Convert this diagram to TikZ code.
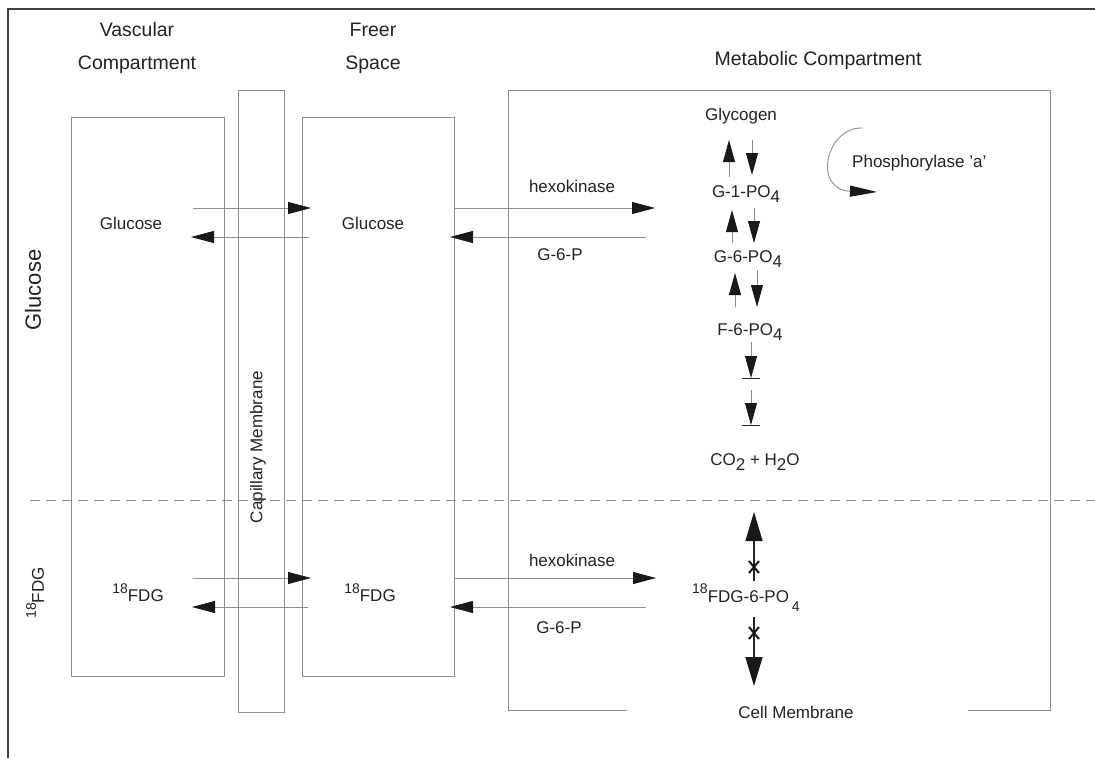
\documentclass[tikz,border=0pt]{standalone}
\usepackage{fontspec}
\setmainfont{Liberation Sans}
\usetikzlibrary{arrows.meta}
\definecolor{ln}{HTML}{8C8C8C}
\definecolor{tx}{HTML}{222222}
\begin{document}
\begin{tikzpicture}[x=1pt,y=-1pt,
  lbl/.style={font=\fontsize{17}{20}\selectfont, text=tx, inner sep=0pt},
  hdr/.style={font=\fontsize{19.5}{33}\selectfont, text=tx, align=center, inner sep=0pt},
  side/.style={font=\fontsize{22}{26}\selectfont, text=tx, inner sep=0pt, rotate=90},
  box/.style={draw=ln, line width=0.8pt},
  frame/.style={draw=black!75, line width=1.1pt},
  conn/.style={draw=ln, line width=0.8pt, -{Triangle[length=23pt,width=12pt,color=black!90]}},
  vconn/.style={draw=ln, line width=0.8pt, -{Triangle[length=22pt,width=12pt,color=black!90]}},
  bigv/.style={draw=black!85, line width=1.4pt, -{Triangle[length=29pt,width=17pt,color=black!90]}},
  xmark/.style={draw=black!90, line width=2pt},
  curv/.style={draw=ln, line width=0.9pt, -{Triangle[length=27pt,width=11pt,color=black!90]}}
]
\useasboundingbox (0,0) rectangle (1095,758);
% frame
\draw[frame] (8,758) -- (8,9) -- (1095,9);
% boxes
\draw[box] (71,117) rectangle (224,676);
\draw[box] (238,90) rectangle (284,712);
\draw[box] (302,117) rectangle (454,676);
\draw[box] (627,710) -- (508,710) -- (508,90) -- (1050,90) -- (1050,710) -- (968,710);
% dashed separator
\draw[draw=ln, line width=0.8pt, dash pattern=on 10pt off 6pt] (30,500) -- (1095,500);
% headers
\node[hdr] (hvasc) at (137,48) {Vascular\\Compartment};
\node[hdr] (hfree) at (373,48) {Freer\\Space};
\node[hdr] (hmeta) at (818,60) {Metabolic Compartment};
% side labels
\node[side] (sglu) at (33,290) {Glucose};
\node[lbl, rotate=90] (sfdg) at (35,593) {\raisebox{5pt}{\fontsize{14}{16}\selectfont 18}\raisebox{-3pt}{FDG}};
\node[lbl, rotate=90] (capm) at (258,447) {Capillary Membrane};
% glucose row
\node[lbl] (vglu) at (131,223) {Glucose};
\node[lbl] (fglu) at (373,223) {Glucose};
\coordinate (a1s) at (193,208); \coordinate (a1e) at (311,208);
\coordinate (a2s) at (309,237); \coordinate (a2e) at (191,237);
\draw[conn] (a1s) -- (a1e);
\draw[conn] (a2s) -- (a2e);
\coordinate (h1s) at (454,208); \coordinate (h1e) at (655,208);
\coordinate (g1s) at (646,237); \coordinate (g1e) at (450,237);
\draw[conn] (h1s) -- (h1e);
\draw[conn] (g1s) -- (g1e);
\node[lbl] (hex1) at (572,186) {hexokinase};
\node[lbl] (g6p1) at (560,255) {G-6-P};
% metabolic pathway
\node[lbl] (glyc) at (741,116) {Glycogen};
\node[lbl] (g1p) at (746,194) {G-1-PO\raisebox{-5pt}{4}};
\node[lbl] (g6p) at (748,259) {G-6-PO\raisebox{-5pt}{4}};
\node[lbl] (f6p) at (750,332) {F-6-PO\raisebox{-5pt}{4}};
\node[lbl] (co2) at (755,462) {CO\raisebox{-5pt}{2} + H\raisebox{-5pt}{2}O};
\coordinate (u1s) at (729,177); \coordinate (u1e) at (729,140);
\coordinate (d1s) at (752,140); \coordinate (d1e) at (752,175);
\coordinate (u2s) at (732,243); \coordinate (u2e) at (732,210);
\coordinate (d2s) at (754,208); \coordinate (d2e) at (754,243);
\coordinate (u3s) at (735,307); \coordinate (u3e) at (735,273);
\coordinate (d3s) at (757,270); \coordinate (d3e) at (757,307);
\coordinate (d4s) at (751,342); \coordinate (d4e) at (751,378);
\coordinate (d5s) at (751,390); \coordinate (d5e) at (751,425);
\draw[vconn] (u1s) -- (u1e);
\draw[vconn] (d1s) -- (d1e);
\draw[vconn] (u2s) -- (u2e);
\draw[vconn] (d2s) -- (d2e);
\draw[vconn] (u3s) -- (u3e);
\draw[vconn] (d3s) -- (d3e);
\draw[vconn] (d4s) -- (d4e);
\draw[vconn] (d5s) -- (d5e);
\draw[draw=black!85, line width=1pt] ([xshift=-9pt]d4e) -- ([xshift=9pt]d4e);
\draw[draw=black!85, line width=1pt] ([xshift=-9pt]d5e) -- ([xshift=9pt]d5e);
% phosphorylase
\coordinate (ps) at (863,128); \coordinate (pe) at (877,192);
\draw[curv] (ps) .. controls (826,126) and (812,190) .. (pe);
\node[lbl, anchor=west] (phos) at (852,163) {Phosphorylase {\char"27}a{\char"27}};
% FDG row
\node[lbl] (vfdg) at (138,593) {\raisebox{5pt}{\fontsize{14}{16}\selectfont 18}\raisebox{-3pt}{FDG}};
\node[lbl] (ffdg) at (370,593) {\raisebox{5pt}{\fontsize{14}{16}\selectfont 18}\raisebox{-3pt}{FDG}};
\coordinate (b1s) at (193,578); \coordinate (b1e) at (311,578);
\coordinate (b2s) at (308,607); \coordinate (b2e) at (192,607);
\draw[conn] (b1s) -- (b1e);
\draw[conn] (b2s) -- (b2e);
\coordinate (h2s) at (454,578); \coordinate (h2e) at (656,578);
\coordinate (g2s) at (646,607); \coordinate (g2e) at (450,607);
\draw[conn] (h2s) -- (h2e);
\draw[conn] (g2s) -- (g2e);
\node[lbl] (hex2) at (572,560) {hexokinase};
\node[lbl] (g6p2) at (559,628) {G-6-P};
\node[lbl, anchor=west] (fdgp) at (692,598) {\raisebox{9pt}{\fontsize{14}{16}\selectfont 18}FDG-6-PO\,\raisebox{-9pt}{\fontsize{14}{16}\selectfont 4}};
\coordinate (v1s) at (754,581); \coordinate (v1e) at (754,512);
\coordinate (v2s) at (754,617); \coordinate (v2e) at (754,686);
\draw[bigv] (v1s) -- (v1e);
\draw[bigv] (v2s) -- (v2e);
\coordinate (x1) at (754,567); \coordinate (x2) at (754,633);
\draw[xmark] ([shift={(-5,-6)}]x1) -- ([shift={(5,6)}]x1);
\draw[xmark] ([shift={(5,-6)}]x1) -- ([shift={(-5,6)}]x1);
\draw[xmark] ([shift={(-5,-6)}]x2) -- ([shift={(5,6)}]x2);
\draw[xmark] ([shift={(5,-6)}]x2) -- ([shift={(-5,6)}]x2);
\node[lbl] (cellm) at (796,712) {Cell Membrane};
\end{tikzpicture}
\end{document}
